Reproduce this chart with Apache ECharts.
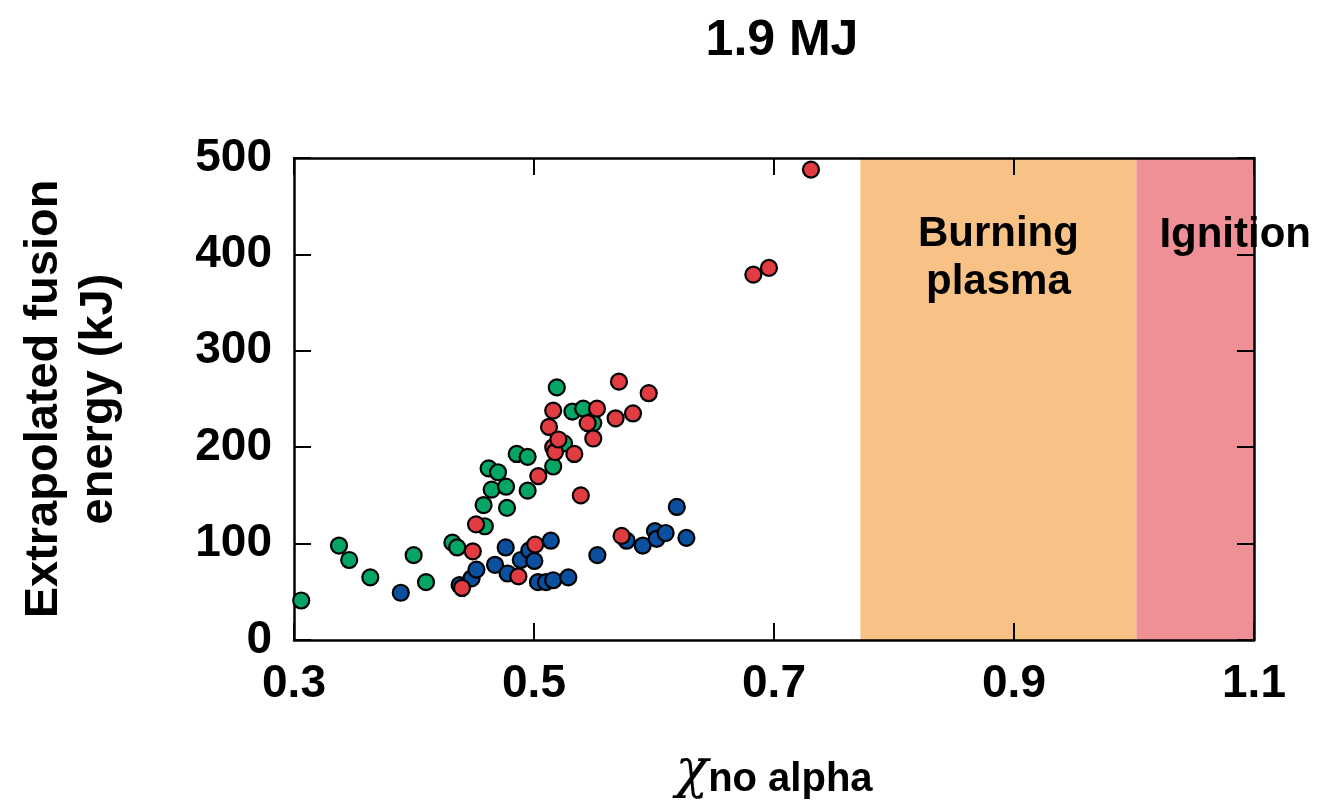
<!DOCTYPE html>
<html>
<head>
<meta charset="utf-8">
<script src="https://cdn.jsdelivr.net/npm/echarts@6/dist/echarts.min.js"></script>
<style>html,body{margin:0;padding:0;background:#fff}#c{width:1321px;height:805px}</style>
</head>
<body>
<div id="c"></div>
<script>
const titleText = '1.9 MJ';
const xTicks = [0.3, 0.5, 0.7, 0.9, 1.1];
const yTicks = [0, 100, 200, 300, 400, 500];
const greenPts = [[0.306,41],[0.3375,98],[0.346,83],[0.3636,65],[0.3997,88],[0.41,60],[0.432,101],[0.436,96],[0.458,140],[0.459,118],[0.4622,178],[0.4647,156],[0.470,174],[0.4767,159],[0.4775,137],[0.4856,193],[0.4947,190],[0.4947,155],[0.516,180],[0.519,262],[0.525,204],[0.532,237],[0.541,240],[0.5494,225]];
const bluePts = [[0.389,49],[0.438,57],[0.448,64],[0.452,73],[0.4675,78],[0.4764,96],[0.478,69],[0.489,83],[0.4961,93],[0.5003,82],[0.5033,60],[0.51,60],[0.514,103],[0.516,62],[0.5286,65],[0.5528,88],[0.5772,103],[0.5906,98],[0.6008,113],[0.6022,105],[0.6097,111],[0.619,138],[0.627,106]];
const redPts = [[0.440,54],[0.449,92],[0.4517,120],[0.487,66],[0.501,99],[0.5036,170],[0.5125,221],[0.516,238],[0.516,200],[0.5175,195],[0.5203,208],[0.5336,193],[0.539,150],[0.5447,225],[0.5494,209],[0.5525,240],[0.568,230],[0.5708,268],[0.573,108],[0.5825,235],[0.5956,256],[0.6828,379],[0.6958,386],[0.7308,488]];
const burningRange = [0.772, 1.002];
const ignitionRange = [1.002, 1.1];

const F = '"Liberation Sans", Arial, Helvetica, sans-serif';
const chart = echarts.init(document.getElementById('c'));
const axisLine = {show: true, onZero: false, lineStyle: {color: '#000', width: 2.5}};
const tick = {show: true, inside: true, length: 17, lineStyle: {color: '#000', width: 2}};
const xBase = {type: 'value', min: xTicks[0], max: xTicks[xTicks.length-1], interval: 0.2, splitLine: {show: false}, axisLine, axisTick: tick, z: 3};
const yBase = {type: 'value', min: yTicks[0], max: yTicks[yTicks.length-1], interval: 100, splitLine: {show: false}, axisLine, axisTick: tick, z: 3};
const mk = (data, color) => ({
  type: 'scatter', data, symbol: 'circle', symbolSize: 16, z: 5,
  itemStyle: {color, borderColor: '#000', borderWidth: 2.2, opacity: 1},
  emphasis: {disabled: true}
});
chart.setOption({
  animation: false,
  title: {text: titleText, left: 777, top: 11, textAlign: 'center',
    textStyle: {fontFamily: F, fontWeight: 'bold', fontSize: 50, color: '#000'}},
  grid: {left: 294, right: 67, top: 158, bottom: 165},
  xAxis: [
    Object.assign({}, xBase, {position: 'bottom',
      axisLabel: {margin: 21, fontFamily: F, fontWeight: 'bold', fontSize: 46, color: '#000', formatter: v => v.toFixed(1)},
      name: '{c|χ}{n|no alpha}', nameLocation: 'middle', nameGap: 104,
      nameTextStyle: {rich: {
        c: {fontFamily: 'DejaVu Serif', fontStyle: 'italic', fontSize: 54, color: '#000', verticalAlign: 'bottom', lineHeight: 56},
        n: {fontFamily: F, fontWeight: 'bold', fontSize: 40, color: '#000', verticalAlign: 'bottom', lineHeight: 50}
      }}}),
    Object.assign({}, xBase, {position: 'top', axisLabel: {show: false}})
  ],
  yAxis: [
    Object.assign({}, yBase, {position: 'left',
      axisLabel: {margin: 22, fontFamily: F, fontWeight: 'bold', fontSize: 46, color: '#000'},
      name: 'Extrapolated fusion\nenergy (kJ)', nameLocation: 'middle', nameRotate: 90, nameGap: 167,
      nameTextStyle: {fontFamily: F, fontWeight: 'bold', fontSize: 47, lineHeight: 55, color: '#000', align: 'center'}}),
    Object.assign({}, yBase, {position: 'right', axisLabel: {show: false}})
  ],
  series: [
    {
      type: 'scatter', data: [], z: 1, silent: true,
      markArea: {
        silent: true,
        data: [
          [{xAxis: burningRange[0], name: 'Burning\nplasma', itemStyle: {color: '#f8c185'},
            label: {show: true, position: 'insideTop', distance: 52, fontFamily: F, fontWeight: 'bold', fontSize: 42, lineHeight: 48, color: '#000'}},
           {xAxis: burningRange[1]}],
          [{xAxis: ignitionRange[0], name: 'Ignition', itemStyle: {color: '#ee9095'},
            label: {show: true, position: 'insideTop', distance: 56, offset: [40, 0], fontFamily: F, fontWeight: 'bold', fontSize: 42, color: '#000'}},
           {xAxis: ignitionRange[1]}]
        ]
      }
    },
    mk(greenPts, '#05a565'),
    mk(bluePts, '#0b4f9f'),
    mk(redPts, '#e23c43')
  ]
});
</script>
</body>
</html>
